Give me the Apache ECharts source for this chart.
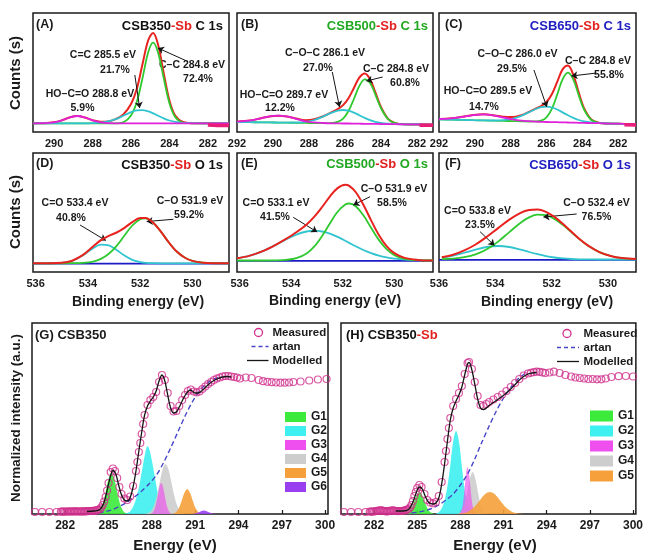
<!DOCTYPE html>
<html><head><meta charset="utf-8">
<script src="https://cdn.jsdelivr.net/npm/echarts@6/dist/echarts.min.js"></script>
<style>html,body{margin:0;padding:0;background:#fff}#c{width:646px;height:554px}</style>
</head><body><div id="c"></div>
<script>
// ---------- Panel A : CSB350-Sb C 1s ----------
const A_eV    = [291.1,290.5,290.0,289.6,289.2,288.8,288.4,288.0,287.6,287.2,286.8,286.4,286.0,285.7,285.4,285.1,284.85,284.6,284.3,284.0,283.7,283.3,282.8,282.3,281.5,280.9];
const A_red   = [8.7,8.8,9.7,11.6,14.5,16.0,14.5,11.8,10.3,10.6,12.8,17.5,28.0,43.0,68.0,92.0,99.0,88.0,59.0,31.6,16.4,10.0,8.8,8.7,8.7,8.7];
const A_green = [8.7,8.7,8.7,8.7,8.7,8.7,8.7,8.7,8.7,8.7,8.7,9.7,16.5,30.0,54.0,80.0,89.3,80.0,54.0,28.8,15.0,9.5,8.7,8.7,8.7,8.7];
const A_cyan  = [8.7,8.7,8.7,8.7,8.7,8.7,8.7,8.9,9.3,10.5,12.8,16.3,19.9,21.6,21.9,20.6,18.6,16.3,13.6,11.5,10.1,9.2,8.8,8.7,8.7,8.7];
const A_mag   = [8.7,8.8,9.7,11.6,14.5,16.0,14.5,11.6,9.7,8.8,8.7,8.7,8.7,8.7,8.7,8.7,8.7,8.7,8.7,8.7,8.7,8.7,8.7,8.7,8.7,8.7];
const A_raw_eV = [282.0,281.5,280.9];
const A_raw    = [7.0,6.6,6.5];

// ---------- Panel B : CSB500-Sb C 1s ----------
const B_eV    = [292,291.3,290.7,290.2,289.7,289.2,288.7,288.2,287.7,287.2,286.8,286.4,286.1,285.8,285.5,285.2,284.9,284.6,284.3,284.0,283.6,283.2,282.7,282.2,281.8,281.1];
const B_red   = [10.3,11.4,13.6,15.6,16.3,15.4,13.4,11.8,12.7,15.8,19.2,22.9,26.9,33.8,44.0,54.4,58.6,52.8,39.3,25.2,13.2,8.9,7.7,7.6,7.5,7.3];
const B_green = [10.0,9.8,9.7,9.6,9.4,9.3,9.2,9.1,8.9,8.8,8.9,10.1,13.4,21.0,33.0,45.9,52.7,49.1,37.2,24.1,12.8,8.8,7.7,7.6,7.5,7.3];
const B_cyan  = [10.0,9.8,9.7,9.6,9.4,9.35,9.5,10.2,12.0,15.6,18.9,21.4,22.0,21.3,19.4,16.8,14.1,11.9,10.2,9.1,8.3,7.9,7.7,7.6,7.5,7.3];
const B_mag   = [10.3,11.4,13.6,15.6,16.3,15.3,13.1,10.7,9.6,9.0,8.7,8.6,8.5,8.5,8.4,8.3,8.2,8.2,8.1,8.0,7.9,7.8,7.7,7.6,7.5,7.3];
const B_raw_eV = [281.85,281.1];
const B_raw    = [6.8,6.8];

// ---------- Panel C : CSB650-Sb C 1s ----------
const C_eV    = [292,291.3,290.7,290.1,289.5,288.9,288.4,287.9,287.4,287.0,286.6,286.3,286.0,285.7,285.4,285.1,284.8,284.5,284.2,283.9,283.5,283.1,282.6,282.0,281.6,281.0];
const C_red   = [13.0,13.7,15.2,16.9,17.7,16.6,15.3,15.0,16.9,19.9,23.4,26.0,30.0,37.7,50.1,62.6,66.5,57.1,39.6,23.8,12.6,9.4,8.5,8.3,8.1,7.8];
const C_green = [12.7,12.4,12.1,11.8,11.6,11.3,11.1,10.9,10.7,10.5,10.55,11.4,14.7,23.1,37.4,52.6,59.3,52.4,36.8,22.3,12.0,9.2,8.5,8.3,8.1,7.8];
const C_cyan  = [12.7,12.4,12.1,11.8,11.6,11.5,11.85,13.2,16.2,19.6,23.0,24.8,25.3,24.5,22.5,19.6,16.7,14.1,12.0,10.6,9.5,9.0,8.5,8.3,8.1,7.8];
const C_mag   = [13.0,13.7,15.15,16.9,17.7,16.4,14.5,12.7,11.4,10.8,10.4,10.2,10.0,9.9,9.8,9.6,9.5,9.4,9.2,9.1,8.9,8.8,8.5,8.3,8.1,7.8];
const C_raw_eV = [281.65,281.0];
const C_raw    = [7.2,7.0];

// ---------- Panel D : CSB350-Sb O 1s ----------
const D_eV    = [536.1,535.5,535.0,534.6,534.2,533.8,533.5,533.2,532.9,532.6,532.3,532.0,531.8,531.5,531.2,530.9,530.6,530.3,530.0,529.6,529.2,528.6];
const D_red   = [8.7,8.75,9.2,11.3,16.8,25.5,31.8,36.2,39.5,44.2,49.9,54.0,54.1,49.3,40.1,29.5,20.5,14.5,11.1,9.3,8.8,8.7];
const D_green = [8.7,8.7,8.7,8.8,9.1,10.4,13.1,18.2,26.2,36.5,46.5,52.8,53.6,49.2,40.1,29.5,20.5,14.5,11.1,9.3,8.8,8.7];
const D_cyan  = [8.7,8.75,9.2,11.2,16.4,23.8,27.4,26.7,22.0,16.4,12.1,9.9,9.2,8.8,8.7,8.7,8.7,8.7,8.7,8.7,8.7,8.7];
const D_base_eV = [536.1,528.6];
const D_base    = [8.4,8.4];

// ---------- Panel E : CSB500-Sb O 1s ----------
const E_eV    = [536.1,535.6,535.1,534.6,534.2,533.8,533.4,533.1,532.8,532.5,532.2,531.9,531.75,531.5,531.2,530.9,530.6,530.3,530.0,529.6,529.1,528.5];
const E_red   = [13.7,16.4,20.9,27.2,33.1,39.7,47.6,55.4,65.0,75.4,83.9,87.2,86.1,80.0,67.2,51.6,37.0,25.9,18.8,14.1,12.1,11.5];
const E_green = [11.5,11.5,11.5,11.6,12.1,13.8,18.6,25.6,36.0,48.5,60.3,67.5,68.5,65.8,56.7,44.2,32.1,22.8,16.9,13.2,11.8,11.5];
const E_cyan  = [13.7,16.4,20.9,27.1,32.5,37.4,40.5,41.3,40.5,38.4,35.1,31.2,29.1,25.7,22.0,18.9,16.4,14.6,13.4,12.4,11.8,11.5];
const E_base_eV = [536.1,528.5];
const E_base    = [11.2,11.2];

// ---------- Panel F : CSB650-Sb O 1s ----------
const F_eV    = [535.9,535.5,535.1,534.7,534.3,533.9,533.5,533.1,532.8,532.5,532.2,531.9,531.6,531.3,531.0,530.7,530.3,529.9,529.5,529.0];
const F_red   = [14.8,17.3,21.6,27.5,35.2,43.9,52.4,59.2,62.1,62.6,60.2,55.1,48.2,40.4,32.8,26.4,19.9,16.0,13.9,12.9];
const F_green = [12.8,13.4,14.8,17.6,22.7,30.4,39.9,49.3,54.6,57.3,56.8,53.1,47.1,39.9,32.6,26.3,19.9,16.0,13.9,12.9];
const F_cyan  = [14.5,16.4,19.25,22.4,25.0,26.0,25.0,22.4,20.0,17.8,15.9,14.5,13.6,13.0,12.7,12.6,12.5,12.5,12.5,12.5];
const F_base_eV = [536.0,529.0];
const F_base    = [12.2,12.2];

// ---------- Panel G : CSB350 NEXAFS ----------
const G_measured = [[279.9,2],[280.4,2],[280.9,2],[281.4,2],[281.7,2.3],[281.8,2.3],[281.9,2.4],
  [282.0,2.4],[282.1,2.5],[282.2,2.5],[282.3,2.6],[282.4,2.5],[282.5,2.5],[282.6,2.6],[282.7,2.7],[282.8,2.6],[282.9,2.5],[283.0,2.5],[283.1,2.6],[283.2,2.6],[283.3,2.5],[283.4,2.6],[283.5,2.8],[283.6,2.9],[283.7,3.0],[283.8,3.0],[283.9,3.1],[284.0,3.2],[284.1,3.4],[284.2,3.8],[284.3,4.2],
  [284.4,5],[284.5,6.5],[284.6,9],[284.7,12.5],[284.8,17],[284.9,23.5],[285.0,31],[285.15,42],[285.3,45.5],[285.45,43],[285.6,36],[285.75,27],[285.9,20],[286.1,15.5],[286.3,14],[286.5,17.5],[286.7,28],[286.9,43],[287.0,52],[287.1,62],[287.2,71],[287.3,80],[287.4,90],[287.5,99],[287.7,109],[287.9,114],[288.1,117],[288.3,122],[288.5,132],[288.7,139],[288.9,134],[289.1,121],[289.3,108],[289.5,102.5],[289.7,103],[289.9,108],[290.1,114],[290.3,119],[290.5,123],[290.7,124.5],[290.9,122.5],[291.1,121.5],[291.3,122.5],[291.5,125],[291.7,127.5],[291.9,130],[292.1,132],[292.3,134],[292.5,135.5],[292.7,136.5],[292.9,137.5],[293.1,138],[293.3,138],[293.5,137.5],[293.7,137],[293.9,136.5],[294.1,135.5],[294.5,136.5],[294.9,136],[295.4,134],[295.7,132.8],[296.0,132.2],[296.3,131.8],[296.6,131.5],[296.9,131.3],[297.2,131.3],[297.5,131.5],[297.8,132],[298.3,132.5],[298.9,133.5],[299.5,134.5],[300.1,135]];
const G_modelled = [[283.5,2.5],[284.0,3],[284.4,4.5],[284.7,12],[285.0,30],[285.2,41],[285.3,43.5],[285.5,40],[285.7,29],[285.9,19],[286.1,14],[286.3,13],[286.5,16.5],[286.7,27],[286.9,43],[287.1,63],[287.3,82],[287.5,99],[287.7,108],[287.9,113],[288.1,117],[288.3,123],[288.5,133],[288.7,139],[288.9,133],[289.1,119],[289.3,106],[289.5,101],[289.7,102],[289.9,107],[290.1,113],[290.3,118.5],[290.5,122.5],[290.65,124],[290.8,123],[291.0,121],[291.2,121],[291.4,122.5],[291.7,126.5],[292.0,130.5],[292.3,133.5],[292.6,135.5],[292.9,137],[293.2,137.5],[293.5,137]];
const G_artan = [[284.3,1],[284.8,2.5],[285.3,4.5],[285.8,8],[286.3,12],[286.8,17],[287.3,23],[287.8,30],[288.3,38.5],[288.8,51],[289.3,66],[289.8,82],[290.3,98],[290.8,112],[291.3,123],[291.8,130.5],[292.3,135],[292.8,137.5]];
const G_G1_eV = [284.0,284.2,284.4,284.6,284.8,285.0,285.2,285.4,285.6,285.8,286.0,286.2,286.4];
const G_G1    = [0.1,0.8,3.3,10.0,21.9,35.1,41.0,35.1,21.9,10.0,3.3,0.8,0.1];
const G_G2_eV = [286.15,286.35,286.55,286.75,286.95,287.15,287.35,287.55,287.7,287.85,288.05,288.25,288.45,288.65,288.85,289.05];
const G_G2    = [0.3,1.2,3.6,8.8,17.6,30.0,46.0,61.5,68.0,63.5,50.0,33.5,18.5,8.5,3.2,1.0];
const G_G3_eV = [287.95,288.05,288.15,288.25,288.35,288.45,288.55,288.65,288.75,288.85,288.95,289.05,289.15,289.25,289.35];
const G_G3    = [0.4,1.3,3.4,7.5,14.0,21.8,28.4,31.0,28.4,21.8,14.0,7.5,3.4,1.3,0.4];
const G_G4_eV = [287.55,287.75,287.95,288.15,288.35,288.55,288.75,288.95,289.15,289.35,289.55,289.75,289.95,290.15,290.35];
const G_G4    = [0.2,0.9,3.1,8.5,18.4,32.1,44.8,50.0,44.8,32.1,18.4,8.5,3.1,0.9,0.2];
const G_G5_eV = [289.25,289.45,289.65,289.85,290.05,290.25,290.45,290.65,290.85,291.05,291.25,291.45,291.65];
const G_G5    = [0.05,0.3,1.6,5.3,12.5,21.0,25.0,21.0,12.5,5.3,1.6,0.3,0.05];
const G_G6_eV = [290.8,291.0,291.2,291.4,291.6,291.8,292.0,292.2,292.4];
const G_G6    = [0.1,0.5,1.4,2.8,3.6,2.8,1.4,0.5,0.1];

// ---------- Panel H : CSB350-Sb NEXAFS ----------
const H_measured = [[279.9,2],[280.4,2],[280.9,2],[281.4,2],[281.7,2.3],[281.8,2.4],[281.9,2.4],
  [282.0,2.5],[282.1,2.8],[282.2,3.0],[282.3,3.3],[282.4,3.6],[282.5,3.6],[282.6,3.3],[282.7,3.0],[282.8,2.7],[282.9,2.6],[283.0,2.8],[283.1,3.1],[283.2,3.5],[283.3,3.6],[283.4,3.3],[283.5,3.0],[283.6,2.9],[283.7,2.9],[283.8,3.0],[283.9,3.0],[284.0,3.2],[284.1,3.4],[284.2,3.8],[284.3,4.3],
  [284.4,5],[284.5,6.5],[284.6,9],[284.7,13],[284.8,18],[284.9,22],[285.0,26],[285.15,29],[285.3,27],[285.5,20],[285.7,14],[285.9,11.5],[286.1,10.7],[286.3,12],[286.5,18],[286.7,32],[286.9,52],[287.0,63],[287.1,75],[287.2,86],[287.3,96],[287.5,108],[287.7,115],[287.9,121],[288.1,128],[288.3,140],[288.5,151],[288.6,152],[288.8,145],[289.0,132],[289.2,118],[289.4,109],[289.6,108],[289.8,110],[290.0,112],[290.3,114.5],[290.6,117],[290.9,119.5],[291.2,123],[291.5,127],[291.8,131],[292.1,135],[292.4,138.5],[292.7,140.5],[292.9,141.2],[293.1,141.8],[293.3,142.3],[293.5,142.2],[293.7,141.6],[293.9,141],[294.2,141.5],[294.5,142.3],[294.9,141],[295.3,139],[295.7,137.5],[296.0,136.5],[296.3,136],[296.6,135.5],[296.9,135],[297.2,135],[297.5,134.7],[297.8,134.7],[298.1,135.5],[298.5,137],[299.0,137.8],[299.5,138],[300.0,137.5]];
const H_modelled = [[283.5,3],[284.0,3],[284.4,4.5],[284.7,12],[285.0,24],[285.15,27],[285.35,25],[285.55,18],[285.8,11.5],[286.1,10],[286.3,11],[286.5,16],[286.7,30],[286.9,50],[287.1,73],[287.3,94],[287.5,106],[287.7,113],[287.9,119],[288.1,127],[288.3,139],[288.5,150],[288.6,151.5],[288.8,144],[289.0,130],[289.2,115],[289.4,106],[289.6,104.5],[289.8,106],[290.0,108.5],[290.3,111.5],[290.6,114.5],[290.9,117.5],[291.2,121],[291.5,125],[291.8,129.5],[292.1,134],[292.4,137.5],[292.7,140],[293.0,141],[293.3,141.5]];
const H_artan = [[284.6,1],[285.1,2],[285.6,3.5],[286.0,5.5],[286.5,9],[287.0,14],[287.5,20],[288.0,29],[288.5,40],[289.0,55],[289.5,72],[290.0,88],[290.5,103],[291.0,116],[291.5,126.5],[292.0,135],[292.5,140.5]];
const H_G1_eV = [284.15,284.35,284.55,284.75,284.95,285.15,285.35,285.55,285.75,285.95,286.15];
const H_G1    = [0.3,1.4,4.6,11.0,18.5,22.0,18.5,11.0,4.6,1.4,0.3];
const H_G2_eV = [286.3,286.5,286.7,286.9,287.1,287.3,287.5,287.7,287.9,288.1,288.3,288.5,288.7,288.9];
const H_G2    = [0.5,1.8,5.5,13.5,28.0,49.0,72.4,83.0,72.4,48.0,24.2,9.3,2.7,0.6];
const H_G3_eV = [287.9,288.0,288.1,288.2,288.3,288.4,288.5,288.6,288.7,288.8,288.9,289.0,289.1];
const H_G3    = [0.3,1.3,4.7,12.9,26.5,40.7,47.0,40.7,26.5,12.9,4.7,1.3,0.3];
const H_G4_eV = [287.85,288.05,288.25,288.45,288.65,288.85,289.05,289.25,289.45,289.65,289.85];
const H_G4    = [0.3,1.9,7.5,19.5,34.7,42.0,34.7,19.5,7.5,1.9,0.3];
const H_G5_eV = [287.65,287.95,288.25,288.55,288.85,289.15,289.45,289.75,290.05,290.35,290.65,290.95,291.25,291.55,291.85,292.15,292.45];
const H_G5    = [0.1,0.3,1.0,2.6,5.5,10.1,15.6,20.2,22.0,20.2,15.6,10.1,5.5,2.6,1.0,0.3,0.1];

// tick labels
const TICKS_C1S_A = [290,288,286,284,282];
const TICKS_C1S   = [292,290,288,286,284,282];
const TICKS_O1S   = [536,534,532,530];
const TICKS_NEX   = [282,285,288,291,294,297,300];

// ---------- build ----------
const FONT = 'Arial, "Liberation Sans", sans-serif';
const zip = (x, y) => x.map((v, i) => [v, y[i]]);
const COL = {red:'#e8231f', green:'#2fc92f', cyan:'#30c4cf', mag:'#e021dc', blue:'#1c1cc4', raw:'#e81e78',
  G1:'#3bea3b', G2:'#3ff0f0', G3:'#ee4fee', G4:'#cdcdcd', G5:'#f5a03a', G6:'#9a3ff0', meas:'#d0308c'};

const grids = [
  {left:33, top:13, width:196, height:119},
  {left:237, top:13, width:196, height:119},
  {left:439, top:13, width:197, height:119},
  {left:33, top:153, width:196, height:119},
  {left:237, top:153, width:196, height:119},
  {left:439, top:153, width:197, height:119},
  {left:32, top:323, width:296, height:191},
  {left:341, top:323, width:295, height:191}
].map(g => Object.assign({show:true, borderColor:'#1a1a1a', borderWidth:1.5, containLabel:false}, g));

function xa(i, min, max, inverse, ticks, fs, tick) {
  return {gridIndex:i, type:'value', min, max, inverse,
    axisLine:{show:false}, splitLine:{show:false},
    axisTick: tick ? {show:true, inside:true, length:4, customValues:ticks, lineStyle:{color:'#1a1a1a', width:1.2}} : {show:false},
    axisLabel:{customValues:ticks, fontSize:fs, fontWeight:'bold', color:'#1a1a1a', fontFamily:FONT, margin:6}};
}
const xAxes = [
  xa(0, 280.9, 291.1, true, TICKS_C1S_A, 11),
  xa(1, 281.1, 292, true, TICKS_C1S, 11),
  xa(2, 281.0, 292, true, TICKS_C1S, 11),
  xa(3, 528.6, 536.1, true, TICKS_O1S, 11),
  xa(4, 528.5, 536.1, true, TICKS_O1S, 11),
  xa(5, 529.0, 536.0, true, TICKS_O1S, 11),
  xa(6, 279.7, 300.2, false, TICKS_NEX, 12, true),
  xa(7, 279.7, 300.2, false, TICKS_NEX, 12, true)
];
const yAxes = [0,1,2,3,4,5,6,7].map(i => ({gridIndex:i, type:'value', min:0, max: i < 6 ? 119 : 191, show:false}));

const series = [];
function ln(i, data, color, width, z, extra) {
  series.push(Object.assign({type:'line', xAxisIndex:i, yAxisIndex:i, data, symbol:'none', smooth:0.35,
    lineStyle:{color, width}, itemStyle:{color}, z, silent:true}, extra || {}));
}
function arrows(list) {
  return {markLine:{silent:true, symbol:['none','arrow'], symbolSize:6, animation:false,
    lineStyle:{color:'#151515', width:1, type:'solid'}, label:{show:false}, emphasis:{disabled:true},
    data: list.map(a => [{coord:a[0]}, {coord:a[1]}])}};
}
// XPS C 1s panels
ln(0, zip(A_eV, A_red), COL.red, 2, 2, arrows([[[285.8,57],[285.55,24]],[[283.1,71],[284.6,84]]]));
ln(0, zip(A_eV, A_green), COL.green, 1.8, 3);
ln(0, zip(A_eV, A_cyan), COL.cyan, 1.8, 4);
ln(0, zip(A_eV, A_mag), COL.mag, 1.8, 5);
ln(0, zip(A_raw_eV, A_raw), COL.raw, 3.5, 5);
ln(1, zip(B_eV, B_red), COL.red, 2, 2, arrows([[[286.7,60],[286.3,25]],[[283.9,55],[284.8,51]]]));
ln(1, zip(B_eV, B_green), COL.green, 1.8, 3);
ln(1, zip(B_eV, B_cyan), COL.cyan, 1.8, 4);
ln(1, zip(B_eV, B_mag), COL.mag, 1.8, 5);
ln(1, zip(B_raw_eV, B_raw), COL.raw, 3.5, 5);
ln(2, zip(C_eV, C_red), COL.red, 2, 2, arrows([[[286.7,62],[285.98,25]],[[283.2,59],[284.6,56]]]));
ln(2, zip(C_eV, C_green), COL.green, 1.8, 3);
ln(2, zip(C_eV, C_cyan), COL.cyan, 1.8, 4);
ln(2, zip(C_eV, C_mag), COL.mag, 1.8, 5);
ln(2, zip(C_raw_eV, C_raw), COL.raw, 3.5, 5);
// XPS O 1s panels
ln(3, zip(D_base_eV, D_base), COL.blue, 1.8, 2);
ln(3, zip(D_eV, D_cyan), COL.cyan, 1.8, 3);
ln(3, zip(D_eV, D_green), COL.green, 1.8, 4);
ln(3, zip(D_eV, D_red), COL.red, 2, 5, arrows([[[534.3,47],[533.31,31.5]],[[530.73,52.7],[531.75,50.5]]]));
ln(4, zip(E_base_eV, E_base), COL.blue, 1.8, 2);
ln(4, zip(E_eV, E_cyan), COL.cyan, 1.8, 3);
ln(4, zip(E_eV, E_green), COL.green, 1.8, 4);
ln(4, zip(E_eV, E_red), COL.red, 2, 5, arrows([[[533.92,54.7],[532.99,40]],[[530.94,75.3],[531.59,67]]]));
ln(5, zip(F_base_eV, F_base), COL.blue, 1.8, 2);
ln(5, zip(F_eV, F_cyan), COL.cyan, 1.8, 3);
ln(5, zip(F_eV, F_green), COL.green, 1.8, 4);
ln(5, zip(F_eV, F_red), COL.red, 2, 5, arrows([[[534.54,40.3],[534.03,26.5]],[[531.11,58],[532.29,55]]]));

// NEXAFS panels
function fill(i, name, eV, vals, color, op, z) {
  series.push({type:'line', name, xAxisIndex:i, yAxisIndex:i, data:zip(eV, vals), symbol:'none', smooth:0.35,
    lineStyle:{width:0}, itemStyle:{color}, areaStyle:{color, opacity:op}, z, silent:true});
}
fill(6,'G1',G_G1_eV,G_G1,COL.G1,0.9,1);
fill(6,'G2',G_G2_eV,G_G2,COL.G2,0.9,1);
fill(6,'G4',G_G4_eV,G_G4,COL.G4,0.9,1);
fill(6,'G3',G_G3_eV,G_G3,COL.G3,0.65,1);
fill(6,'G5',G_G5_eV,G_G5,COL.G5,0.9,1);
fill(6,'G6',G_G6_eV,G_G6,COL.G6,0.9,1);
fill(7,'G1',H_G1_eV,H_G1,COL.G1,0.9,1);
fill(7,'G2',H_G2_eV,H_G2,COL.G2,0.9,1);
fill(7,'G4',H_G4_eV,H_G4,COL.G4,0.9,1);
fill(7,'G3',H_G3_eV,H_G3,COL.G3,0.65,1);
fill(7,'G5',H_G5_eV,H_G5,COL.G5,0.9,1);
[[6,G_artan,G_measured,G_modelled],[7,H_artan,H_measured,H_modelled]].forEach(([i,art,meas,mod]) => {
  series.push({type:'line', name:'artan', xAxisIndex:i, yAxisIndex:i, data:art, symbol:'none', smooth:0.3,
    lineStyle:{color:'#4646c8', width:1.4, type:[5,3]}, itemStyle:{color:'#4646c8'}, z:3, silent:true});
  series.push({type:'scatter', name:'Measured', xAxisIndex:i, yAxisIndex:i, data:meas, symbol:'circle', symbolSize:7,
    itemStyle:{color:'rgba(255,255,255,0)', borderColor:COL.meas, borderWidth:1.2}, z:4, silent:true});
  series.push({type:'line', name:'Modelled', xAxisIndex:i, yAxisIndex:i, data:mod, symbol:'none', smooth:0.35,
    lineStyle:{color:'#151515', width:1.3}, itemStyle:{color:'#151515'}, z:5, silent:true});
});

const legTxt = {fontSize:12, fontWeight:'bold', color:'#1a1a1a', fontFamily:FONT};
const legends = [
  {left:285, top:411, orient:'vertical', icon:'rect', itemWidth:21, itemHeight:10, itemGap:2, padding:0, selectedMode:false,
   data:['G1','G2','G3','G4','G5','G6'], textStyle:legTxt},
  {left:590, top:410, orient:'vertical', icon:'rect', itemWidth:23, itemHeight:11, itemGap:3, padding:0, selectedMode:false,
   data:['G1','G2','G3','G4','G5'], textStyle:legTxt}
];

// ---------- texts & legend keys ----------
const graphic = [];
function T(x, y, text, size, align, rot, rich) {
  const st = {text, x:0, y:0, fill:'#1a1a1a', fontSize:size, fontWeight:'bold', fontFamily:FONT,
    align: align || 'center', verticalAlign:'middle'};
  if (rich) st.rich = rich;
  graphic.push({type:'text', x, y, rotation: rot || 0, style:st, silent:true});
}
function R(size) {
  const mk = c => ({fill:c, fontSize:size, fontWeight:'bold', fontFamily:FONT});
  return {k:mk('#111'), r:mk('#e22020'), g:mk('#22a822'), b:mk('#2020c0')};
}
function key(cx, x1, x2, x3, y0, tx) {
  graphic.push({type:'circle', shape:{cx, cy:y0, r:4}, style:{fill:'none', stroke:COL.meas, lineWidth:1.3}, silent:true});
  graphic.push({type:'line', shape:{x1, y1:y0+14, x2:x3, y2:y0+14}, style:{stroke:'#4646c8', lineWidth:1.4, lineDash:[4,3]}, silent:true});
  graphic.push({type:'line', shape:{x1:x2, y1:y0+28, x2:x3, y2:y0+28}, style:{stroke:'#151515', lineWidth:1.3}, silent:true});
  T(tx, y0, 'Measured', 11.5, 'left');
  T(tx, y0+14, 'artan', 11.5, 'left');
  T(tx, y0+28, 'Modelled', 11.5, 'left');
}
key(258.5, 251.5, 247, 268.5, 332.5, 272.5);
key(567, 557, 557, 579, 333.5, 583.5);
// panel letters
[['(A)',36,25],['(B)',241,25],['(C)',445,25],['(D)',36,164],['(E)',241,164],['(F)',445,164]]
  .forEach(a => T(a[1], a[2], a[0], 12.5, 'left'));
// titles
T(223,26,'{k|CSB350}{r|-Sb}{k| C 1s}',13,'right',0,R(13));
T(428,26,'{g|CSB500}{r|-Sb}{g| C 1s}',13,'right',0,R(13));
T(631,26,'{b|CSB650}{r|-Sb}{b| C 1s}',13,'right',0,R(13));
T(223,165,'{k|CSB350}{r|-Sb}{k| O 1s}',13,'right',0,R(13));
T(428,164,'{g|CSB500}{r|-Sb}{g| O 1s}',13,'right',0,R(13));
T(631,165,'{b|CSB650}{r|-Sb}{b| O 1s}',13,'right',0,R(13));
T(35,335,'(G) CSB350',13,'left');
T(346,335,'{k|(H) CSB350}{r|-Sb}',13,'left',0,R(13));
// peak annotations
const ANN = [
  ['C=C 285.5 eV',103,55],['21.7%',115,70],['C\u2013C 284.8 eV',192,65],['72.4%',198,79],['HO\u2013C=O 288.8 eV',90,94],['5.9%',82.5,108.5],
  ['C\u2013O\u2013C 286.1 eV',325,53.5],['27.0%',318,68.5],['C\u2013C 284.8 eV',396,69.5],['60.8%',405,83.5],['HO\u2013C=O 289.7 eV',284,95],['12.2%',280,108.5],
  ['C\u2013O\u2013C 286.0 eV',517.5,54.5],['29.5%',512,69.5],['C\u2013C 284.8 eV',598,61],['55.8%',609,75],['HO\u2013C=O 289.5 eV',488,91.5],['14.7%',484,107],
  ['C=O 533.4 eV',75,203.5],['40.8%',71,218.5],['C\u2013O 531.9 eV',190,201.5],['59.2%',189,215],
  ['C=O 533.1 eV',276,203.5],['41.5%',275,217.5],['C\u2013O 531.9 eV',394,189.5],['58.5%',392,203.5],
  ['C=O 533.8 eV',477.5,211],['23.5%',480,225],['C\u2013O 532.4 eV',596.5,203.5],['76.5%',596.5,217.5]
];
ANN.forEach(a => T(a[1], a[2], a[0], 10.5));
// axis titles
T(16,73,'Counts (s)',15,'center',Math.PI/2);
T(16,212,'Counts (s)',15,'center',Math.PI/2);
T(16,418,'Normalized intensity (a.u.)',13.5,'center',Math.PI/2);
T(138,302,'Binding energy (eV)',14);
T(335,301,'Binding energy (eV)',14);
T(547,302,'Binding energy (eV)',14);
T(175,546,'Energy (eV)',15);
T(495,546,'Energy (eV)',15);

const chart = echarts.init(document.getElementById('c'), null, {renderer:'canvas'});
chart.setOption({backgroundColor:'#fff', animation:false, grid:grids, xAxis:xAxes, yAxis:yAxes,
  legend:legends, series, graphic});
</script></body></html>
